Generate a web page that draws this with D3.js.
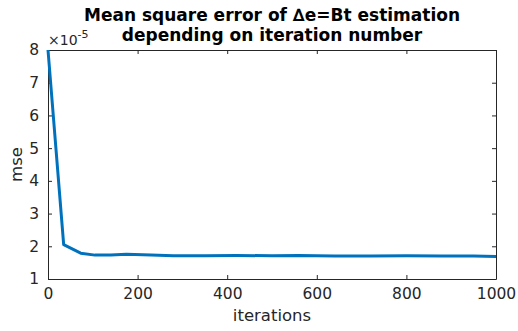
<!DOCTYPE html>
<html>
<head>
<meta charset="utf-8">
<script src="https://cdn.jsdelivr.net/npm/d3@7"></script>
<style>
  body { margin: 0; background: #fff; }
  text { font-family: "DejaVu Sans", sans-serif; }
</style>
</head>
<body>
<div id="chart"></div>
<script>
// data (mse in units of 1e-5)
const iterations = [0, 35, 73, 105, 140, 175, 230, 280, 350, 420, 500, 560, 640, 720, 800, 880, 950, 1000];
const mse = [8.0, 2.05, 1.79, 1.73, 1.73, 1.76, 1.73, 1.71, 1.71, 1.72, 1.71, 1.72, 1.70, 1.70, 1.71, 1.70, 1.70, 1.69];
const xTicks = [0, 200, 400, 600, 800, 1000];
const yTicks = [1, 2, 3, 4, 5, 6, 7, 8];
const titleLines = ["Mean square error of \u2206e=Bt estimation", "depending on iteration number"];

const totalWidth = 518, totalHeight = 331;
const margin = { top: 50, right: 22, bottom: 52, left: 48 };
const width = totalWidth - margin.left - margin.right;
const height = totalHeight - margin.top - margin.bottom;
const axisColor = "#262626";

const svgRoot = d3.select("#chart").append("svg")
    .attr("width", totalWidth)
    .attr("height", totalHeight);

const svg = svgRoot.append("g")
    .attr("transform", `translate(${margin.left},${margin.top})`);

const x = d3.scaleLinear().domain([0, 1000]).range([0, width]);
const y = d3.scaleLinear().domain([1, 8]).range([height, 0]);
const fmt = d3.format("d");

// axes (ticks pointing inward, box on)
const axBottom = svg.append("g")
    .attr("transform", `translate(0,${height})`)
    .call(d3.axisBottom(x).tickValues(xTicks).tickFormat(fmt).tickSizeInner(-4).tickSizeOuter(0).tickPadding(9));
const axLeft = svg.append("g")
    .call(d3.axisLeft(y).tickValues(yTicks).tickFormat(fmt).tickSizeInner(-4).tickSizeOuter(0).tickPadding(9));
const axTop = svg.append("g")
    .call(d3.axisTop(x).tickValues(xTicks).tickSizeInner(-4).tickSizeOuter(0).tickFormat(""));
const axRight = svg.append("g")
    .attr("transform", `translate(${width},0)`)
    .call(d3.axisRight(y).tickValues(yTicks).tickSizeInner(-4).tickSizeOuter(0).tickFormat(""));

[axBottom, axLeft, axTop, axRight].forEach(g => {
    g.selectAll("path, line").attr("stroke", axisColor).attr("stroke-width", 1);
    g.selectAll("text").attr("fill", axisColor).style("font-size", "15.5px");
});
axBottom.selectAll("text").attr("dy", "0.71em");

// line
svg.append("path")
    .datum(iterations.map((it, i) => [it, mse[i]]))
    .attr("fill", "none")
    .attr("stroke", "#0072BD")
    .attr("stroke-width", 3)
    .attr("stroke-linejoin", "round")
    .attr("d", d3.line().x(d => x(d[0])).y(d => y(d[1])));

// exponent label
const expo = svgRoot.append("text")
    .attr("x", margin.left)
    .attr("y", margin.top - 5)
    .attr("fill", axisColor)
    .style("font-size", "14px");
expo.append("tspan").text("\u00d710");
expo.append("tspan").attr("dy", -7).style("font-size", "11px").text("-5");

// title
svgRoot.selectAll(".title")
    .data(titleLines)
    .enter().append("text")
    .attr("class", "title")
    .attr("x", margin.left + width / 2)
    .attr("y", (d, i) => 21 + i * 20)
    .attr("text-anchor", "middle")
    .attr("font-weight", "bold")
    .style("font-size", "17px")
    .attr("fill", "#000")
    .text(d => d);

// axis labels
svgRoot.append("text")
    .attr("x", margin.left + width / 2)
    .attr("y", totalHeight - 10)
    .attr("text-anchor", "middle")
    .attr("fill", axisColor)
    .style("font-size", "16.5px")
    .text("iterations");

svgRoot.append("text")
    .attr("transform", `translate(22,${margin.top + height / 2}) rotate(-90)`)
    .attr("text-anchor", "middle")
    .attr("fill", axisColor)
    .style("font-size", "16.5px")
    .text("mse");
</script>
</body>
</html>
